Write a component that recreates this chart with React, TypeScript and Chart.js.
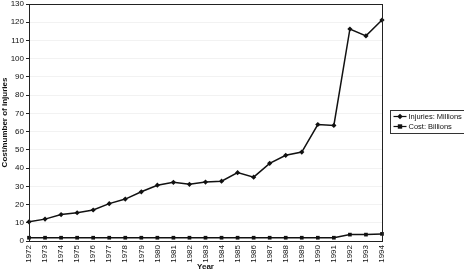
import React, { useEffect, useRef } from "react";
import { Chart, registerables } from "chart.js";

Chart.register(...registerables);

const years = ["1972","1973","1974","1975","1976","1977","1978","1979","1980","1981","1982","1983","1984","1985","1986","1987","1988","1989","1990","1991","1992","1993","1994"];
const injuries = [10.5, 12, 14.5, 15.5, 17, 20.5, 23, 27, 30.6, 32.2, 31.1, 32.3, 32.8, 37.5, 35, 42.6, 47, 48.8, 63.9, 63.4, 116.3, 112.5, 121.2];
const costs = [1.8, 1.8, 1.8, 1.8, 1.8, 1.8, 1.8, 1.8, 1.8, 1.8, 1.8, 1.8, 1.8, 1.8, 1.8, 1.8, 1.8, 1.8, 1.8, 1.8, 3.5, 3.5, 3.9];
const seriesNames = ["Injuries: Millions", "Cost: Billions"];
const yTitle = "Cost/number of injuries";
const xTitle = "Year";

const FONT = "'Liberation Sans', Arial, sans-serif";

const boxAndLegend = {
  id: "boxAndLegend",
  afterDraw(chart: any) {
    const { ctx, chartArea } = chart;
    ctx.save();
    ctx.strokeStyle = "#222";
    ctx.lineWidth = 1;
    ctx.strokeRect(chartArea.left + 0.5, chartArea.top + 0.5, chartArea.right - chartArea.left, chartArea.bottom - chartArea.top);
    // legend
    const lx = chartArea.right + 8.5;
    const ly = 110.5;
    const lw = 74;
    const lh = 23;
    ctx.strokeStyle = "#333";
    ctx.strokeRect(lx, ly, lw, lh);
    ctx.font = `7.5px ${FONT}`;
    ctx.fillStyle = "#111";
    ctx.textBaseline = "middle";
    const rows = [ly + 6, ly + 16];
    rows.forEach((yy, i) => {
      ctx.strokeStyle = "#111";
      ctx.lineWidth = 1.2;
      ctx.beginPath();
      ctx.moveTo(lx + 3, yy);
      ctx.lineTo(lx + 16, yy);
      ctx.stroke();
      ctx.fillStyle = "#111";
      if (i === 0) {
        ctx.beginPath();
        ctx.moveTo(lx + 9.5, yy - 2.8);
        ctx.lineTo(lx + 12.3, yy);
        ctx.lineTo(lx + 9.5, yy + 2.8);
        ctx.lineTo(lx + 6.7, yy);
        ctx.closePath();
        ctx.fill();
      } else {
        ctx.fillRect(lx + 7.3, yy - 2.2, 4.4, 4.4);
      }
      ctx.fillText(seriesNames[i], lx + 18, yy + 0.5);
    });
    ctx.restore();
  },
};

export default function App() {
  const ref = useRef<HTMLCanvasElement>(null);
  useEffect(() => {
    document.body.style.margin = "0";
    const chart = new Chart(ref.current!, {
      type: "line",
      data: {
        labels: years,
        datasets: [
          {
            label: seriesNames[0],
            data: injuries,
            borderColor: "#111",
            backgroundColor: "#111",
            borderWidth: 1.5,
            pointStyle: "rectRot",
            pointRadius: 2.6,
            pointBorderWidth: 0,
            tension: 0,
          },
          {
            label: seriesNames[1],
            data: costs,
            borderColor: "#111",
            backgroundColor: "#111",
            borderWidth: 1.5,
            pointStyle: "rect",
            pointRadius: 2.6,
            pointBorderWidth: 0,
            tension: 0,
          },
        ],
      },
      options: {
        animation: false,
        responsive: false,
        maintainAspectRatio: false,
        layout: { padding: { top: 3, right: 82, left: 0, bottom: 0 } },
        plugins: { legend: { display: false }, tooltip: { enabled: false } },
        scales: {
          x: {
            offset: false,
            afterFit: (s: any) => { s.height = 32; s.paddingLeft = 0; s.paddingRight = 0; },
            grid: { display: false, drawTicks: true, tickLength: 3, color: "#222" },
            border: { display: true, color: "#222" },
            ticks: {
              minRotation: 90,
              maxRotation: 90,
              autoSkip: false,
              padding: 1,
              color: "#111",
              font: { family: FONT, size: 8 },
            },
            title: {
              display: true,
              text: xTitle,
              color: "#111",
              font: { family: FONT, size: 8, weight: "bold" },
              padding: { top: 0, bottom: 1 },
            },
          },
          y: {
            min: 0,
            max: 130,
            afterFit: (s: any) => { s.width = 29; s.paddingTop = 0; s.paddingBottom = 0; },
            grid: {
              color: "rgba(0,0,0,0.05)",
              tickColor: "#222",
              tickLength: 3,
              drawTicks: true,
            },
            border: { display: true, color: "#222", dash: [] },
            ticks: {
              stepSize: 10,
              padding: 2,
              color: "#111",
              font: { family: FONT, size: 8 },
            },
            title: {
              display: true,
              text: yTitle,
              color: "#111",
              font: { family: FONT, size: 8, weight: "bold" },
              padding: { top: 0, bottom: 0 },
            },
          },
        },
      },
      plugins: [boxAndLegend],
    });
    return () => chart.destroy();
  }, []);
  return <canvas ref={ref} width={464} height={273} style={{ display: "block" }} />;
}
